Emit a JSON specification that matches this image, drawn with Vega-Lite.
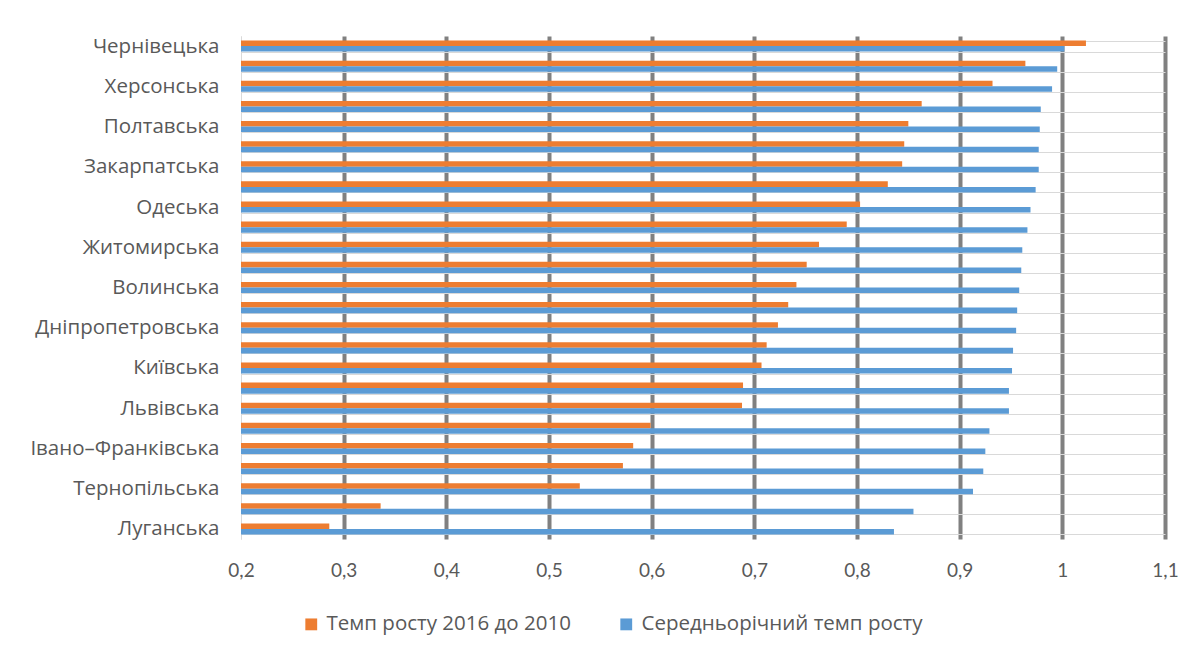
{
  "$schema": "https://vega.github.io/schema/vega-lite/v6.json",
  "autosize": "none",
  "width": 924,
  "height": 503,
  "padding": {"left": 241, "top": 36, "right": 38, "bottom": 120},
  "background": "white",
  "config": {
    "view": {"stroke": null},
    "font": "Open Sans"
  },
  "data": {
    "values": [
      {"region": "Чернівецька", "series": "Темп росту 2016 до 2010", "value": 1.023},
      {"region": "Чернівецька", "series": "Середньорічний темп росту", "value": 1.002},
      {"region": "Рівненська", "series": "Темп росту 2016 до 2010", "value": 0.964},
      {"region": "Рівненська", "series": "Середньорічний темп росту", "value": 0.995},
      {"region": "Херсонська", "series": "Темп росту 2016 до 2010", "value": 0.932},
      {"region": "Херсонська", "series": "Середньорічний темп росту", "value": 0.990},
      {"region": "Вінницька", "series": "Темп росту 2016 до 2010", "value": 0.863},
      {"region": "Вінницька", "series": "Середньорічний темп росту", "value": 0.979},
      {"region": "Полтавська", "series": "Темп росту 2016 до 2010", "value": 0.850},
      {"region": "Полтавська", "series": "Середньорічний темп росту", "value": 0.978},
      {"region": "Хмельницька", "series": "Темп росту 2016 до 2010", "value": 0.846},
      {"region": "Хмельницька", "series": "Середньорічний темп росту", "value": 0.977},
      {"region": "Закарпатська", "series": "Темп росту 2016 до 2010", "value": 0.844},
      {"region": "Закарпатська", "series": "Середньорічний темп росту", "value": 0.977},
      {"region": "Черкаська", "series": "Темп росту 2016 до 2010", "value": 0.830},
      {"region": "Черкаська", "series": "Середньорічний темп росту", "value": 0.974},
      {"region": "Одеська", "series": "Темп росту 2016 до 2010", "value": 0.803},
      {"region": "Одеська", "series": "Середньорічний темп росту", "value": 0.969},
      {"region": "Миколаївська", "series": "Темп росту 2016 до 2010", "value": 0.790},
      {"region": "Миколаївська", "series": "Середньорічний темп росту", "value": 0.966},
      {"region": "Житомирська", "series": "Темп росту 2016 до 2010", "value": 0.763},
      {"region": "Житомирська", "series": "Середньорічний темп росту", "value": 0.961},
      {"region": "Кіровоградська", "series": "Темп росту 2016 до 2010", "value": 0.751},
      {"region": "Кіровоградська", "series": "Середньорічний темп росту", "value": 0.960},
      {"region": "Волинська", "series": "Темп росту 2016 до 2010", "value": 0.741},
      {"region": "Волинська", "series": "Середньорічний темп росту", "value": 0.958},
      {"region": "Чернігівська", "series": "Темп росту 2016 до 2010", "value": 0.733},
      {"region": "Чернігівська", "series": "Середньорічний темп росту", "value": 0.956},
      {"region": "Дніпропетровська", "series": "Темп росту 2016 до 2010", "value": 0.723},
      {"region": "Дніпропетровська", "series": "Середньорічний темп росту", "value": 0.955},
      {"region": "Сумська", "series": "Темп росту 2016 до 2010", "value": 0.712},
      {"region": "Сумська", "series": "Середньорічний темп росту", "value": 0.952},
      {"region": "Київська", "series": "Темп росту 2016 до 2010", "value": 0.707},
      {"region": "Київська", "series": "Середньорічний темп росту", "value": 0.951},
      {"region": "Запорізька", "series": "Темп росту 2016 до 2010", "value": 0.689},
      {"region": "Запорізька", "series": "Середньорічний темп росту", "value": 0.948},
      {"region": "Львівська", "series": "Темп росту 2016 до 2010", "value": 0.688},
      {"region": "Львівська", "series": "Середньорічний темп росту", "value": 0.948},
      {"region": "Харківська", "series": "Темп росту 2016 до 2010", "value": 0.599},
      {"region": "Харківська", "series": "Середньорічний темп росту", "value": 0.929},
      {"region": "Івано–Франківська", "series": "Темп росту 2016 до 2010", "value": 0.582},
      {"region": "Івано–Франківська", "series": "Середньорічний темп росту", "value": 0.925},
      {"region": "м. Київ", "series": "Темп росту 2016 до 2010", "value": 0.572},
      {"region": "м. Київ", "series": "Середньорічний темп росту", "value": 0.923},
      {"region": "Тернопільська", "series": "Темп росту 2016 до 2010", "value": 0.530},
      {"region": "Тернопільська", "series": "Середньорічний темп росту", "value": 0.913},
      {"region": "Донецька", "series": "Темп росту 2016 до 2010", "value": 0.336},
      {"region": "Донецька", "series": "Середньорічний темп росту", "value": 0.855},
      {"region": "Луганська", "series": "Темп росту 2016 до 2010", "value": 0.286},
      {"region": "Луганська", "series": "Середньорічний темп росту", "value": 0.836}
    ]
  },
  "mark": {"type": "bar"},
  "encoding": {
    "y": {
      "field": "region",
      "type": "nominal",
      "sort": null,
      "scale": {"paddingInner": 0.45, "paddingOuter": 0.225},
      "axis": {
        "title": null,
        "ticks": false,
        "domain": true,
        "domainColor": "#D9D9D9",
        "domainWidth": 1,
        "grid": true,
        "gridColor": "#D9D9D9",
        "gridWidth": 1,
        "tickBand": "extent",
        "labelFont": "Open Sans",
        "labelFontSize": 20.5,
        "labelColor": "#595959",
        "labelPadding": 22,
        "labelLimit": 0,
        "labelExpr": "indexof(['Рівненська','Вінницька','Хмельницька','Черкаська','Миколаївська','Кіровоградська','Чернігівська','Сумська','Запорізька','Харківська','м. Київ','Донецька'], datum.value) >= 0 ? '' : datum.label"
      }
    },
    "yOffset": {
      "field": "series",
      "type": "nominal",
      "sort": ["Темп росту 2016 до 2010", "Середньорічний темп росту"]
    },
    "x": {
      "field": "value",
      "type": "quantitative",
      "scale": {"domain": [0.2, 1.1], "zero": false, "nice": false},
      "axis": {
        "title": null,
        "values": [0.2, 0.3, 0.4, 0.5, 0.6, 0.7, 0.8, 0.9, 1.0, 1.1],
        "format": ".1~f",
        "labelExpr": "replace(datum.label, '.', ',')",
        "labelFlush": false,
        "ticks": false,
        "domain": false,
        "grid": true,
        "gridColor": {"condition": {"test": "datum.value <= 0.2", "value": "#D9D9D9"}, "value": "#808080"},
        "gridWidth": {"condition": {"test": "datum.value <= 0.2", "value": 1}, "value": 4},
        "labelFont": "Lato",
        "labelFontSize": 19,
        "labelColor": "#595959",
        "labelPadding": 22
      }
    },
    "x2": {"datum": 0.2},
    "color": {
      "field": "series",
      "type": "nominal",
      "sort": ["Темп росту 2016 до 2010", "Середньорічний темп росту"],
      "scale": {"domain": ["Темп росту 2016 до 2010", "Середньорічний темп росту"], "range": ["#ED7D31", "#5B9BD5"]},
      "legend": {
        "title": null,
        "orient": "none",
        "direction": "horizontal",
        "legendX": 60,
        "legendY": 578,
        "symbolType": "square",
        "symbolSize": 140,
        "symbolStrokeWidth": 0,
        "labelFont": "Open Sans",
        "labelFontSize": 20.5,
        "labelColor": "#595959",
        "labelOffset": 5,
        "labelLimit": 0,
        "columnPadding": 45
      }
    }
  }
}
